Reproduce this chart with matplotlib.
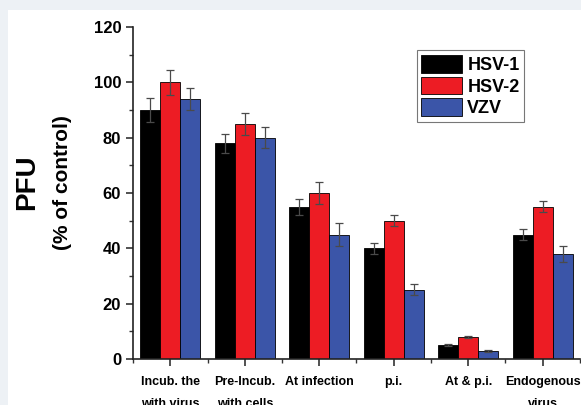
import numpy as np
import matplotlib
matplotlib.use("Agg")
import matplotlib.pyplot as plt
from matplotlib.patches import Rectangle

plt.rcParams['font.family'] = ['Liberation Sans', 'DejaVu Sans']
plt.rcParams['font.weight'] = 'bold'

# data
categories = ["Incub. the\nwith virus", "Pre-Incub.\nwith cells", "At infection",
              "p.i.", "At & p.i.", "Endogenous\nvirus"]
hsv1 = [90, 78, 55, 40, 5, 45]
hsv2 = [100, 85, 60, 50, 8, 55]
vzv = [94, 80, 45, 25, 3, 38]
hsv1_err = [4.5, 3.5, 3, 2, 0.3, 2]
hsv2_err = [4.5, 4, 4, 2, 0.3, 2]
vzv_err = [4, 3.7, 4, 2, 0.3, 3]
series_names = ["HSV-1", "HSV-2", "VZV"]
colors = ["#000000", "#ED1C24", "#3B55A8"]

fig = plt.figure(figsize=(5.81, 4.05), dpi=100)
fig.patch.set_facecolor("#EDF1F5")
# white panel behind the plot
fig.patches.append(Rectangle((0.0138, 0.0), 1.0, 0.975, transform=fig.transFigure,
                             facecolor="white", edgecolor="none", zorder=-10))

ax = fig.add_axes([0.229, 0.1136, 0.769, 0.8197])
ax.set_facecolor("none")

x = np.arange(1, len(categories) + 1)
w = 0.268
for i, (vals, errs) in enumerate(zip([hsv1, hsv2, vzv], [hsv1_err, hsv2_err, vzv_err])):
    pos = x + (i - 1) * w
    ax.bar(pos, vals, width=w, color=colors[i], edgecolor="black", linewidth=0.6,
           label=series_names[i], zorder=2)
    ax.errorbar(pos, vals, yerr=errs, fmt="none", ecolor="#4a4a4a", elinewidth=0.9,
                capsize=3, capthick=0.9, zorder=3)

ax.set_xlim(0.5, 6.5)
ax.set_ylim(0, 120)
ax.set_yticks(range(0, 121, 20))
ax.set_yticks(range(10, 120, 20), minor=True)
ax.set_xticks(x)
ax.set_xticks(np.arange(0.5, 6.6, 1.0), minor=True)
ax.set_xticklabels(categories, fontsize=9, fontweight="bold", linespacing=2.1,
                   va="top")
for lab in ax.get_yticklabels():
    lab.set_fontsize(12)
    lab.set_fontweight("bold")

ax.tick_params(axis="both", which="major", direction="out", length=5, width=1.2, color="#333333")
ax.tick_params(axis="both", which="minor", direction="out", length=3, width=1.0, color="#333333")
ax.tick_params(axis="x", which="major", pad=7)

for s in ["top", "right"]:
    ax.spines[s].set_visible(False)
for s in ["left", "bottom"]:
    ax.spines[s].set_linewidth(1.2)
    ax.spines[s].set_color("#222222")

fig.text(0.047, 0.55, "PFU", rotation=90, fontsize=20, fontweight="bold",
         ha="center", va="center")
fig.text(0.108, 0.55, "(% of control)", rotation=90, fontsize=15, fontweight="bold",
         ha="center", va="center")

leg = ax.legend(loc="upper left", bbox_to_anchor=(0.635, 0.93), fontsize=13,
                frameon=True, fancybox=False, handlelength=2.25, handleheight=1.15,
                labelspacing=0.15, handletextpad=0.3, borderpad=0.25, borderaxespad=0)
leg.get_frame().set_edgecolor("#555555")
leg.get_frame().set_linewidth(0.8)
for t in leg.get_texts():
    t.set_fontweight("bold")

fig.savefig("out.png", dpi=100, facecolor=fig.get_facecolor())
